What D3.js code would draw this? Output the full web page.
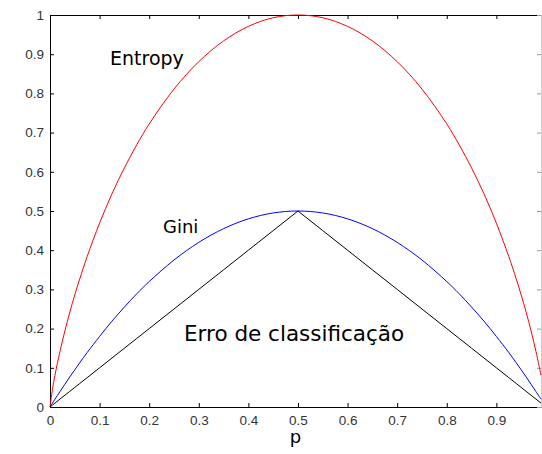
<!DOCTYPE html>
<html>
<head>
<meta charset="utf-8">
<script src="https://cdn.jsdelivr.net/npm/d3@7"></script>
<style>
  body { margin: 0; background: #fff; }
  svg { display: block; font-family: "DejaVu Sans", Verdana, sans-serif; }
</style>
</head>
<body>
<div id="chart"></div>
<script>
// values
const pValues = [0, 0.005, 0.01, 0.02, 0.03, 0.04, 0.05, 0.06, 0.075, 0.1, 0.125, 0.15, 0.175, 0.2, 0.25, 0.3, 0.35, 0.4, 0.45, 0.5,
                 0.55, 0.6, 0.65, 0.7, 0.75, 0.8, 0.825, 0.85, 0.875, 0.9, 0.925, 0.94, 0.95, 0.96, 0.97, 0.98, 0.99];
const entropy = [0, 0.045, 0.081, 0.141, 0.194, 0.242, 0.286, 0.327, 0.384, 0.469, 0.544, 0.61, 0.669, 0.722, 0.811, 0.881, 0.934, 0.971, 0.993, 1.0,
                 0.993, 0.971, 0.934, 0.881, 0.811, 0.722, 0.669, 0.61, 0.544, 0.469, 0.384, 0.327, 0.286, 0.242, 0.194, 0.141, 0.081];
const gini = [0, 0.01, 0.02, 0.039, 0.058, 0.077, 0.095, 0.113, 0.139, 0.18, 0.219, 0.255, 0.289, 0.32, 0.375, 0.42, 0.455, 0.48, 0.495, 0.5,
              0.495, 0.48, 0.455, 0.42, 0.375, 0.32, 0.289, 0.255, 0.219, 0.18, 0.139, 0.113, 0.095, 0.077, 0.058, 0.039, 0.02];
const classError = [0, 0.005, 0.01, 0.02, 0.03, 0.04, 0.05, 0.06, 0.075, 0.1, 0.125, 0.15, 0.175, 0.2, 0.25, 0.3, 0.35, 0.4, 0.45, 0.5,
                    0.45, 0.4, 0.35, 0.3, 0.25, 0.2, 0.175, 0.15, 0.125, 0.1, 0.075, 0.06, 0.05, 0.04, 0.03, 0.02, 0.01];
const xTicks = [0, 0.1, 0.2, 0.3, 0.4, 0.5, 0.6, 0.7, 0.8, 0.9];
const yTicks = [0, 0.1, 0.2, 0.3, 0.4, 0.5, 0.6, 0.7, 0.8, 0.9, 1];

const width = 542, height = 454;
const marginLeft = 50, marginRight = 1, marginTop = 15, marginBottom = 47;

const x = d3.scaleLinear([0, 0.99], [marginLeft, width - marginRight]);
const y = d3.scaleLinear([0, 1], [height - marginBottom, marginTop]);

const svg = d3.select("#chart").append("svg")
    .attr("width", width)
    .attr("height", height);

const fmt = d => d === 0 || d === 1 ? String(d) : d3.format(".1f")(d);
const tickFont = "'Liberation Sans', Arial, sans-serif";

// bottom axis, ticks pointing inward
svg.append("g")
    .attr("transform", `translate(0,${y(0)})`)
    .call(d3.axisBottom(x).tickValues(xTicks).tickSize(-4).tickSizeOuter(0).tickPadding(8).tickFormat(fmt))
    .call(g => g.select(".domain").attr("stroke", "#000"))
    .call(g => g.selectAll("text").attr("font-size", 13.5).attr("font-family", tickFont).attr("fill", "#333"));

// top axis
svg.append("g")
    .attr("transform", `translate(0,${y(1)})`)
    .call(d3.axisTop(x).tickValues(xTicks).tickSize(-4).tickSizeOuter(0).tickFormat(""))
    .call(g => g.select(".domain").attr("stroke", "#000"));

// left axis
svg.append("g")
    .attr("transform", `translate(${marginLeft},0)`)
    .call(d3.axisLeft(y).tickValues(yTicks).tickSize(-4).tickSizeOuter(0).tickPadding(6).tickFormat(fmt))
    .call(g => g.select(".domain").attr("stroke", "#000"))
    .call(g => g.selectAll("text").attr("font-size", 13.5).attr("font-family", tickFont).attr("fill", "#333"));

// right axis ticks
svg.append("g")
    .attr("transform", `translate(${width - 1},0)`)
    .call(d3.axisRight(y).tickValues(yTicks).tickSize(-4).tickSizeOuter(0).tickFormat(""))
    .call(g => g.select(".domain").attr("stroke", "#ccc"))
    .call(g => g.selectAll(".tick line").attr("stroke", "#999"));

const smooth = d3.line()
    .x((d, i) => x(pValues[i]))
    .y(d => y(d))
    .curve(d3.curveCatmullRom);

const straight = d3.line()
    .x((d, i) => x(pValues[i]))
    .y(d => y(d));

const series = [
  {values: entropy, color: "#ff0000", gen: smooth},
  {values: gini, color: "#0000ff", gen: smooth},
  {values: classError, color: "#000000", gen: straight}
];

svg.append("g")
  .selectAll("path")
  .data(series)
  .join("path")
    .attr("fill", "none")
    .attr("stroke", d => d.color)
    .attr("stroke-width", 1)
    .attr("d", d => d.gen(d.values));

// labels
svg.append("text").attr("x", 110).attr("y", 65).attr("font-size", 19).text("Entropy");
svg.append("text").attr("x", 163).attr("y", 233).attr("font-size", 18).text("Gini");
svg.append("text").attr("x", 184).attr("y", 341).attr("font-size", 21.5).text("Erro de classificação");
svg.append("text").attr("x", x(0.495)).attr("y", 443).attr("font-size", 18)
    .attr("text-anchor", "middle").text("p");
</script>
</body>
</html>
